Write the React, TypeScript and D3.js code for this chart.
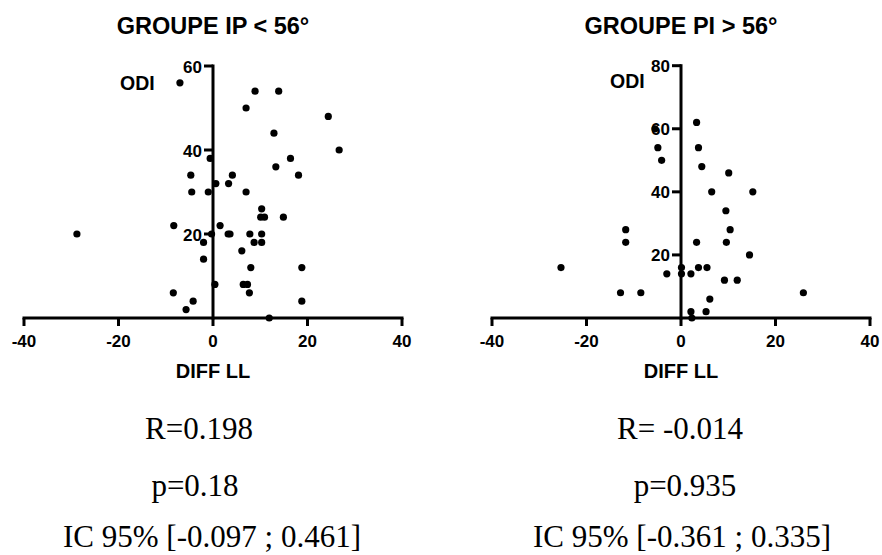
import React from "react";
import * as d3 from "d3";

// Left panel: GROUPE IP < 56°
const leftDiff = [-7, 8.9, 13.9, 7, 24.4, 12.9, 26.7, -0.6, 16.4, 13.3, -4.7, 4.1, 18.1, 0.6, 3.3, -4.5, -1, 7, 10.3, 10.1, 10.9, 14.9, -8.3, 1.5, -28.8, -0.3, 3.2, 3.6, 7.8, 10.3, -2, 8.7, 10.3, 6.1, -2, 8, 18.8, 0.4, 6.4, 7.3, -8.4, 7.7, -4.2, 18.8, -5.7, 11.9];
const leftOdi = [56, 54, 54, 50, 48, 44, 40, 38, 38, 36, 34, 34, 34, 32, 32, 30, 30, 30, 26, 24, 24, 24, 22, 22, 20, 20, 20, 20, 20, 20, 18, 18, 18, 16, 14, 12, 12, 8, 8, 8, 6, 6, 4, 4, 2, 0];

// Right panel: GROUPE PI > 56°
const rightDiff = [-5.5, 3.3, -4.9, 3.7, -4.1, 4.4, 10.1, 6.5, 15.2, 9.5, 10.4, -11.7, -11.7, 3.3, 9.6, 14.5, -25.4, 0.1, 3.7, 5.5, -3, 0.1, 2.1, 9.2, 11.9, -12.8, -8.5, 25.9, 6.1, 2.1, 5.3, 2.3];
const rightOdi = [60, 62, 54, 54, 50, 48, 46, 40, 40, 34, 28, 28, 24, 24, 24, 20, 16, 16, 16, 16, 14, 14, 14, 12, 12, 8, 8, 8, 6, 2, 2, 0];

const xTicks = [-40, -20, 0, 20, 40];
const leftYTicks = [20, 40, 60];
const rightYTicks = [20, 40, 60, 80];

const titles = ["GROUPE IP < 56°", "GROUPE PI > 56°"];
const statsLeft = ["R=0.198", "p=0.18", "IC 95% [-0.097 ; 0.461]"];
const statsRight = ["R= -0.014", "p=0.935", "IC 95% [-0.361 ; 0.335]"];

const SANS = "'Liberation Sans', Arial, sans-serif";
const SERIF = "'Liberation Serif', 'Times New Roman', serif";

type PanelProps = {
  xs: number[];
  ys: number[];
  x: d3.ScaleLinear<number, number>;
  y: d3.ScaleLinear<number, number>;
  yTicks: number[];
  title: string;
  stats: string[];
  statX: number[];
  odiX: number;
  odiY: number;
};

function Panel({ xs, ys, x, y, yTicks, title, stats, statX, odiX, odiY }: PanelProps) {
  const x0 = x(0);
  const y0 = y(0);
  const yTop = y(y.domain()[1]);
  const statY = [439, 496, 547];
  return (
    <g>
      <text x={x0} y={34} textAnchor="middle" fontFamily={SANS} fontWeight="bold" fontSize={23.5} fill="#000">
        {title}
      </text>
      {xs.map((d, i) => (
        <circle key={i} cx={x(d)} cy={y(ys[i])} r={3.6} fill="#000" />
      ))}
      {/* x axis */}
      <line x1={x(-40)} x2={x(40)} y1={y0} y2={y0} stroke="#000" strokeWidth={3} strokeLinecap="square" />
      {xTicks.map((t) => (
        <g key={t}>
          <line x1={x(t)} x2={x(t)} y1={y0} y2={y0 + 8} stroke="#000" strokeWidth={3} />
          <text x={x(t)} y={347} textAnchor="middle" fontFamily={SANS} fontWeight="bold" fontSize={17} fill="#000">
            {t}
          </text>
        </g>
      ))}
      {/* y axis */}
      <line x1={x0} x2={x0} y1={y0} y2={yTop} stroke="#000" strokeWidth={3} strokeLinecap="square" />
      {yTicks.map((t) => (
        <g key={t}>
          <line x1={x0 - 9} x2={x0} y1={y(t)} y2={y(t)} stroke="#000" strokeWidth={3} />
          <text x={x0 - 11} y={y(t) + 6.5} textAnchor="end" fontFamily={SANS} fontWeight="bold" fontSize={17} fill="#000">
            {t}
          </text>
        </g>
      ))}
      <text x={odiX} y={odiY} fontFamily={SANS} fontWeight="bold" fontSize={19.5} fill="#000">
        ODI
      </text>
      <text x={x0} y={378} textAnchor="middle" fontFamily={SANS} fontWeight="bold" fontSize={20} fill="#000">
        DIFF LL
      </text>
      {stats.map((s, i) => (
        <text key={i} x={statX[i]} y={statY[i]} textAnchor="middle" fontFamily={SERIF} fontSize={31} fill="#000">
          {s}
        </text>
      ))}
    </g>
  );
}

export default function App() {
  const xL = d3.scaleLinear().domain([-40, 40]).range([24, 402]);
  const yL = d3.scaleLinear().domain([0, 60]).range([318, 66]);
  const xR = d3.scaleLinear().domain([-40, 40]).range([492, 870]);
  const yR = d3.scaleLinear().domain([0, 80]).range([318, 65.7]);
  return (
    <svg
      width={882}
      height={555}
      viewBox="0 0 882 555"
      style={{ position: "absolute", left: 0, top: 0, background: "#fff" }}
    >
      <rect width={882} height={555} fill="#fff" />
      <Panel
        xs={leftDiff}
        ys={leftOdi}
        x={xL}
        y={yL}
        yTicks={leftYTicks}
        title={titles[0]}
        stats={statsLeft}
        statX={[199, 195, 212]}
        odiX={120}
        odiY={90}
      />
      <Panel
        xs={rightDiff}
        ys={rightOdi}
        x={xR}
        y={yR}
        yTicks={rightYTicks}
        title={titles[1]}
        stats={statsRight}
        statX={[680, 685, 682]}
        odiX={610}
        odiY={88}
      />
    </svg>
  );
}
